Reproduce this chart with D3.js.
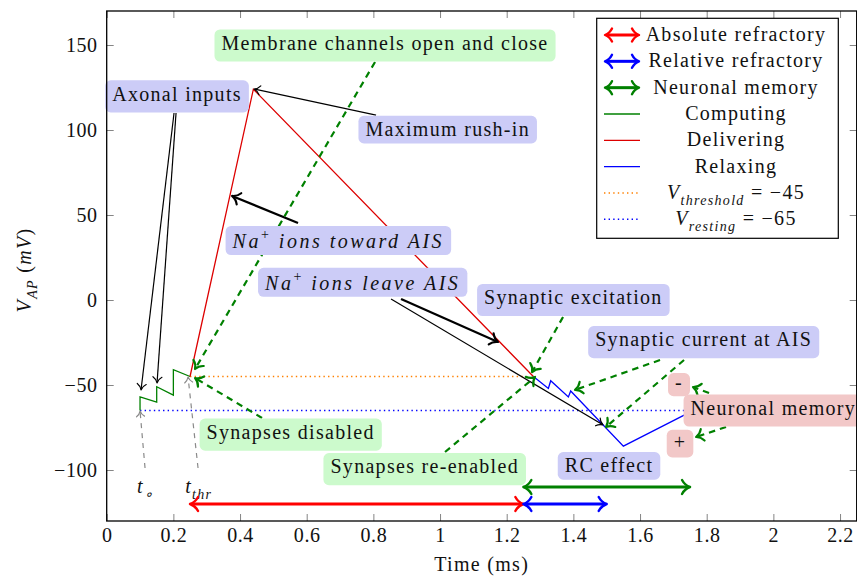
<!DOCTYPE html>
<html>
<head>
<meta charset="utf-8">
<script src="https://cdn.jsdelivr.net/npm/d3@7"></script>
<style>
  body { margin: 0; background: #fff; }
  svg { display: block; }
  text { font-family: "Liberation Serif", "Times New Roman", serif; font-size: 20px; letter-spacing: 1.3px; fill: #111; }
  .tick text { letter-spacing: 0.6px; }
  .mathnote { letter-spacing: 2.5px; }
</style>
</head>
<body>
<svg id="chart" width="857" height="576"></svg>
<script>
// ---- action potential phases: [time (ms), potential (mV)] ----
const computing  = [[0.1,-65],[0.1,-57],[0.15,-60],[0.15,-51],[0.2,-56],[0.2,-41],[0.25,-45]];
const delivering = [[0.25,-45],[0.44,124],[1.28,-45]];
const relaxing   = [[1.28,-45],[1.325,-52],[1.332,-47.5],[1.385,-57],[1.392,-53.5],[1.55,-86],[1.75,-66]];

// ---- reference potentials ----
const thresholdV = -45, thresholdSpan = [0.25, 1.25];
const restingV   = -65, restingSpan   = [0.1, 1.75];

// ---- refractory / memory periods (start, end, level in mV) ----
const periodNames  = ["Absolute refractory", "Relative refractory", "Neuronal memory"];
const periodStart  = [0.25, 1.25, 1.25];
const periodEnd    = [1.25, 1.5, 1.75];
const periodLevel  = [-120, -120, -110];

// ---- axis ticks ----
const xTicks = [0, 0.2, 0.4, 0.6, 0.8, 1, 1.2, 1.4, 1.6, 1.8, 2, 2.2];
const yTicks = [-100, -50, 0, 50, 100, 150];
const xDomain = [0, 2.25], yDomain = [-130, 170];

// ---- labelled notes, anchored in axis coordinates ----
// text parts: [string, style] with style n=upright, i=italic, sup=superscript
const noteText = [
  [["Membrane channels open and close"]],
  [["Axonal inputs"]],
  [["Maximum rush-in"]],
  [["Na","i"],["+","sup"],[" ions toward AIS","i"]],
  [["Na","i"],["+","sup"],[" ions leave AIS","i"]],
  [["Synaptic excitation"]],
  [["Synaptic current at AIS"]],
  [["-"]],
  [["Neuronal memory"]],
  [["+"]],
  [["RC effect"]],
  [["Synapses re-enabled"]],
  [["Synapses disabled"]]
];
const noteX = [0.835, 0.211, 1.023, 0.695, 0.768, 1.4, 1.791, 1.717, 2.0, 1.72, 1.507, 0.954, 0.552];
const noteY = [149.7, 119.8, 100.2, 35, 10.4, 0, -24.8, -49.8, -65, -84.5, -97.6, -99.5, -79.2];
const noteKind = ["green","blue","blue","blue","blue","blue","blue","red","red","red","blue","green","green"];

// ---- pointer arrows: [x1, y1, x2, y2] in axis coordinates, arrow head at (x2, y2) ----
const blackThin  = [[0.202,110,0.103,-52.9],[0.208,110,0.151,-48.8],[0.808,108.8,0.442,124.1],[0.853,0.6,1.489,-73.5]];
const blackThick = [[0.574,45.3,0.376,61.2],[0.883,0.6,1.174,-24.7]];
const greenDashed = [
  [0.805,140,0.265,-40.6],[0.466,-69.4,0.265,-45.9],
  [1.369,-10,1.276,-42.4],[1.015,-89.4,1.285,-45.3],
  [1.66,-35.3,1.405,-52.9],[1.732,-35.3,1.498,-74.7],
  [1.807,-54.7,1.759,-51.2],[1.858,-74.7,1.768,-80.6]
];
const grayDashed = [[0.115,-98.8,0.1,-65.3],[0.274,-98.8,0.244,-45.3]];
const timeMarks  = [[["t","i"],["\u2218","sub"]], [["t","i"],["thr","sub"]]];
const timeMarkX  = [0.117, 0.276], timeMarkY = [-110.6, -110.6];

// ---- legend ----
const phaseNames = ["Computing", "Delivering", "Relaxing"];
const levelLabels = [
  [["V","i"],["threshold","sub"],[" = \u221245"]],
  [["V","i"],["resting","sub"],[" = \u221265"]]
];

// ================= drawing =================
const FS = 20;
const svg = d3.select("#chart");
const x = d3.scaleLinear().domain(xDomain).range([106.7, 856.7]);
const y = d3.scaleLinear().domain(yDomain).range([521, 11]);

const C = {
  green: "#008000", red: "#ff0000", redLine: "#dd0000", blue: "#0000ff",
  orange: "#ff8000", gray: "#8a8a8a",
  fill: { green: "#ccfacc", blue: "#ccccf7", red: "#f2c8c8" }
};
const colorsPeriod = [C.red, C.blue, C.green];
const colorsPhase = [C.green, C.redLine, C.blue];

// rich text with italic / sub / superscript parts
function richText(sel, parts, size) {
  size = size || FS;
  let shift = 0;
  parts.forEach(p => {
    const style = p[1] || "n";
    const t = sel.append("tspan").text(p[0]);
    let target = 0;
    if (style === "sub") { target = size * 0.3; t.style("font-size", (size * 0.7) + "px").style("font-style", "italic"); }
    else if (style === "sup") { target = -size * 0.42; t.style("font-size", (size * 0.7) + "px"); }
    else if (style === "i") { t.style("font-style", "italic"); }
    if (target !== shift) { t.attr("dy", target - shift); shift = target; }
  });
  return sel;
}

// "to" style arrow head, tip at (tx, ty) pointing along angle a
function head(g, tx, ty, a, L, Wd, color, sw) {
  g.append("path")
    .attr("d", `M${-L},${-Wd} C${-0.75*L},${-0.45*Wd} ${-0.2*L},${-0.08*Wd} 0,0 C${-0.2*L},${0.08*Wd} ${-0.75*L},${0.45*Wd} ${-L},${Wd}`)
    .attr("transform", `translate(${tx},${ty}) rotate(${a * 180 / Math.PI})`)
    .attr("fill", "none").attr("stroke", color).attr("stroke-width", sw)
    .attr("stroke-linecap", "round").attr("stroke-linejoin", "round");
}
function arrow(g, x1, y1, x2, y2, o) {
  const a = Math.atan2(y2 - y1, x2 - x1);
  const back = o.sw * 0.6;
  const sx = o.both ? x1 + Math.cos(a) * back : x1, sy = o.both ? y1 + Math.sin(a) * back : y1;
  g.append("line")
    .attr("x1", sx).attr("y1", sy)
    .attr("x2", x2 - Math.cos(a) * back).attr("y2", y2 - Math.sin(a) * back)
    .attr("stroke", o.color).attr("stroke-width", o.sw)
    .attr("stroke-dasharray", o.dash || null);
  head(g, x2, y2, a, o.L, o.W, o.color, o.hsw || o.sw);
  if (o.both) head(g, x1, y1, a + Math.PI, o.L, o.W, o.color, o.hsw || o.sw);
}

// ---- axes (ticks drawn inward on all four sides) ----
const fmtX = d3.format("~g");
const axB = svg.append("g").attr("transform", `translate(0,${y(yDomain[0])})`)
  .call(d3.axisBottom(x).tickValues(xTicks).tickFormat(fmtX).tickSize(-7).tickSizeOuter(0).tickPadding(7));
const axT = svg.append("g").attr("transform", `translate(0,${y(yDomain[1])})`)
  .call(d3.axisTop(x).tickValues(xTicks).tickFormat("").tickSize(-7).tickSizeOuter(0));
const axL = svg.append("g").attr("transform", `translate(${x(xDomain[0])},0)`)
  .call(d3.axisLeft(y).tickValues(yTicks).tickSize(-7).tickSizeOuter(0).tickPadding(9));
const axR = svg.append("g").attr("transform", `translate(${x(xDomain[1])},0)`)
  .call(d3.axisRight(y).tickValues(yTicks).tickFormat("").tickSize(-7).tickSizeOuter(0));
[axB, axT, axL, axR].forEach(a => {
  a.select(".domain").remove();
  a.selectAll(".tick line").attr("stroke", "#777").attr("stroke-width", 0.9);
  a.selectAll("text").attr("font-family", null).attr("font-size", null).attr("fill", "#111");
});

// axis titles
svg.append("text").attr("x", (x(xDomain[0]) + x(xDomain[1])) / 2).attr("y", 571)
  .attr("text-anchor", "middle").text("Time (ms)");
richText(svg.append("text").attr("text-anchor", "middle")
  .attr("transform", `translate(31,${(y(yDomain[0]) + y(yDomain[1])) / 2 + 4}) rotate(-90)`),
  [["V","i"],["AP","sub"],[" ("],["mV","i"],[")"]]);

// ---- reference potentials ----
const plot = svg.append("g");
plot.append("line").attr("x1", x(thresholdSpan[0])).attr("x2", x(thresholdSpan[1]))
  .attr("y1", y(thresholdV)).attr("y2", y(thresholdV))
  .attr("stroke", C.orange).attr("stroke-width", 1.6).attr("stroke-dasharray", "1.4,3.2");
plot.append("line").attr("x1", x(restingSpan[0])).attr("x2", x(restingSpan[1]))
  .attr("y1", y(restingV)).attr("y2", y(restingV))
  .attr("stroke", C.blue).attr("stroke-width", 1.6).attr("stroke-dasharray", "1.4,3.2");

// ---- action potential ----
const line = d3.line().x(d => x(d[0])).y(d => y(d[1]));
[computing, delivering, relaxing].forEach((s, i) => {
  plot.append("path").attr("d", line(s)).attr("fill", "none")
    .attr("stroke", colorsPhase[i]).attr("stroke-width", 1.3).attr("stroke-linejoin", "miter");
});

// ---- pointer arrows ----
const ann = svg.append("g");
blackThin.forEach(a => arrow(ann, x(a[0]), y(a[1]), x(a[2]), y(a[3]), { color: "#000", sw: 1.2, L: 6, W: 4.5 }));
blackThick.forEach(a => arrow(ann, x(a[0]), y(a[1]), x(a[2]), y(a[3]), { color: "#000", sw: 2.2, L: 7.5, W: 6 }));
greenDashed.forEach(a => arrow(ann, x(a[0]), y(a[1]), x(a[2]), y(a[3]), { color: C.green, sw: 2.2, L: 7, W: 6, dash: "6.5,5" }));
grayDashed.forEach(a => arrow(ann, x(a[0]), y(a[1]), x(a[2]), y(a[3]), { color: C.gray, sw: 1.2, L: 5.5, W: 4, dash: "5,5" }));

// time marks
timeMarks.forEach((t, i) => {
  richText(ann.append("text").attr("x", x(timeMarkX[i])).attr("y", y(timeMarkY[i]) + 5)
    .attr("text-anchor", "middle"), t);
});

// ---- period arrows ----
periodNames.forEach((n, i) => {
  arrow(ann, x(periodStart[i]), y(periodLevel[i]), x(periodEnd[i]), y(periodLevel[i]),
    { color: colorsPeriod[i], sw: 3, L: 8, W: 7, both: true, hsw: 2.4 });
});

// ---- labelled notes (boxes drawn above the curves) ----
const notes = svg.append("g");
noteText.forEach((parts, i) => {
  const str = parts.map(p => p[0]).join("");
  const isMath = parts.some(p => p[1] === "i");
  const pad = 7.3;
  let asc = /[A-Zbdfhklt0-9]/.test(str) ? 13 : 8.5;
  if (str === "+") asc = 11.5;
  if (parts.some(p => p[1] === "sup")) asc = 14.5;
  let desc = /[gjpqy]/.test(str) ? 4.5 : 0;
  if (str === "+") desc = 1.5;
  const h = asc + desc + 2 * pad;
  const cx = x(noteX[i]), cy = y(noteY[i]);
  const g = notes.append("g");
  const rect = g.append("rect");
  const t = richText(g.append("text").attr("x", cx).attr("y", cy - h / 2 + pad + asc)
    .attr("text-anchor", "middle").classed("mathnote", isMath), parts);
  const w = t.node().getComputedTextLength() + 14;
  rect.attr("x", cx - w / 2).attr("y", cy - h / 2).attr("width", w).attr("height", h)
    .attr("rx", 5.5).attr("fill", C.fill[noteKind[i]]);
});

// ---- frame ----
svg.append("rect").attr("x", x(xDomain[0])).attr("y", y(yDomain[1]))
  .attr("width", x(xDomain[1]) - x(xDomain[0])).attr("height", y(yDomain[0]) - y(yDomain[1]))
  .attr("fill", "none").attr("stroke", "#000").attr("stroke-width", 1.3);

// ---- legend ----
const lg = svg.append("g");
lg.append("rect").attr("x", 596.7).attr("y", 18.3).attr("width", 241.6).attr("height", 220)
  .attr("fill", "#fff").attr("stroke", "#000").attr("stroke-width", 1.2);
const rowY = i => 35 + i * 26.33;
const sx0 = 604, sx1 = 640, tx = 736;
periodNames.forEach((n, i) => {
  arrow(lg, sx0 + 1, rowY(i), sx1 - 1, rowY(i), { color: colorsPeriod[i], sw: 3, L: 7, W: 6.5, both: true, hsw: 2.4 });
  lg.append("text").attr("x", tx).attr("y", rowY(i) + 6).attr("text-anchor", "middle").text(n);
});
phaseNames.forEach((n, j) => {
  const i = j + 3;
  lg.append("line").attr("x1", sx0).attr("x2", sx1).attr("y1", rowY(i)).attr("y2", rowY(i))
    .attr("stroke", colorsPhase[j]).attr("stroke-width", 1.3);
  lg.append("text").attr("x", tx).attr("y", rowY(i) + 6).attr("text-anchor", "middle").text(n);
});
levelLabels.forEach((parts, j) => {
  const i = j + 6;
  lg.append("line").attr("x1", sx0).attr("x2", sx1).attr("y1", rowY(i)).attr("y2", rowY(i))
    .attr("stroke", j === 0 ? C.orange : C.blue).attr("stroke-width", 1.6).attr("stroke-dasharray", "1.4,3.2");
  richText(lg.append("text").attr("x", tx).attr("y", rowY(i) + 6).attr("text-anchor", "middle"), parts);
});
</script>
</body>
</html>
